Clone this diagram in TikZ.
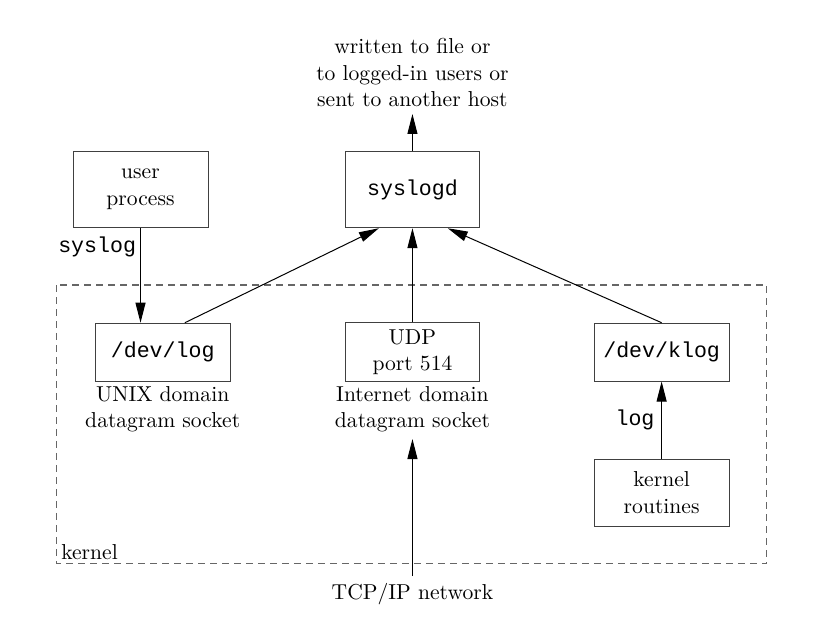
\documentclass[tikz,border=0pt]{standalone}
\usepackage{fontspec}
\setmonofont{Liberation Mono}
\usepackage{amsmath}
\usepackage{tikz}
\usetikzlibrary{arrows.meta}

\begin{document}
\begin{tikzpicture}[scale=1,auto=center,font=\fontsize{10.8}{13.2}\selectfont,
		box/.style={draw=black!75,minimum width=2.37cm,align=center},
		sendto/.style={-{Triangle[length=10pt,width=5pt]},line width=0.5pt}]
			\useasboundingbox (0,0) rectangle (14.59,10.88);
			\draw[black!60,dashed,dash pattern=on 3.6pt off 2.4pt,line width=0.6pt] (1.0,5.87) rectangle (13.48,0.97);
			\coordinate (kernsw) at (1.0,0.97);
			\node[anchor=south west,inner sep=2pt] (kernlbl) at (kernsw) {kernel};
			\node[box,minimum height=1.35cm] (user) at (2.47,7.55) {user\\process};
			\node[box,minimum height=1.35cm] (syslogd) at (7.25,7.55) {\texttt{syslogd}};
			\node[align=center] (out) at (7.25,9.6) {written to file or\\to logged-in users or\\sent to another host};
			\node[box,minimum height=1.02cm] (devlog) at (2.86,4.69) {\texttt{/dev/log}};
			\node[box,minimum height=1.02cm] (udp) at (7.25,4.69) {UDP\\port 514};
			\node[box,minimum height=1.02cm] (devklog) at (11.63,4.69) {\texttt{/dev/klog}};
			\node[box,minimum height=1.18cm] (kroutines) at (11.63,2.22) {kernel\\routines};
			\node[align=center] (unixsock) at (2.86,3.69) {UNIX domain\\datagram socket};
			\node[align=center] (inetsock) at (7.25,3.69) {Internet domain\\datagram socket};
			\node[] (tcpip) at (7.25,0.44) {TCP/IP network};
			\draw[sendto] (syslogd.north) -- (out.south);
			\draw[sendto] (user.south) -- node[pos=0.2,left,inner sep=2pt] {\texttt{syslog}} (user.south |- devlog.north);
			\draw[sendto] ([xshift=0.39cm]devlog.north) -- ([xshift=-0.59cm]syslogd.south);
			\draw[sendto] (udp.north) -- (syslogd.south);
			\draw[sendto] (devklog.north) -- ([xshift=0.62cm]syslogd.south);
			\draw[sendto] (kroutines.north) -- node[left] {\texttt{log}} (devklog.south);
			\draw[sendto] (tcpip.north) -- (inetsock.south);
		\end{tikzpicture}
\end{document}
